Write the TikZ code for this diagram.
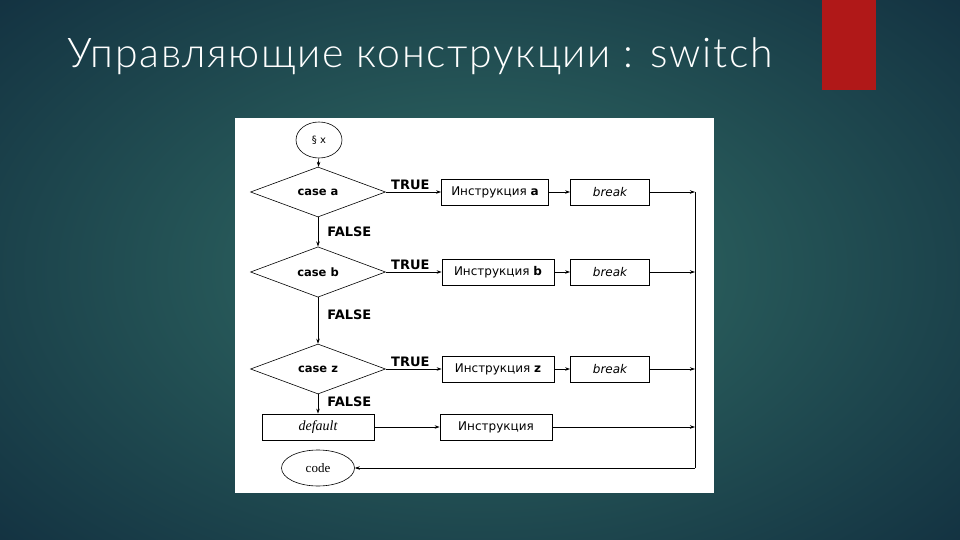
\documentclass[tikz,border=0pt]{standalone}
\usepackage{fontspec}
\setmainfont{DejaVu Sans}
\newfontfamily\titlefont{Lato Light}[LetterSpace=4]
\newfontfamily\serifit{Liberation Serif}
\usepackage{xcolor}
\usetikzlibrary{arrows.meta,positioning,shapes.geometric}
\definecolor{bgin}{RGB}{50,110,102}
\definecolor{bgout}{RGB}{18,48,64}
\definecolor{barred}{RGB}{176,24,24}

\begin{document}
\begin{tikzpicture}[
  x=1pt,y=-1pt,
  box/.style={rectangle,draw=black,line width=0.8pt,fill=white,minimum width=107pt,minimum height=26pt,inner sep=1pt,font=\fontsize{12}{14}\selectfont},
  brk/.style={box,minimum width=79pt,font=\fontsize{12}{14}\selectfont\itshape},
  cond/.style={diamond,draw=black,line width=0.6pt,minimum width=135pt,minimum height=50pt,inner sep=0pt,font=\fontsize{11.5}{14}\selectfont\bfseries},
  term/.style={ellipse,draw=black,line width=0.6pt,inner sep=0pt,minimum height=36pt},
  lbl/.style={font=\fontsize{13}{15}\selectfont\bfseries,inner sep=0pt},
  arr/.style={-{Stealth[length=5pt,width=3.5pt]},line width=0.7pt},
  line/.style={line width=0.7pt}
]
% slide background
\useasboundingbox (0,0) rectangle (960,540);
\shade[inner color=bgin,outer color=bgout] (-200,-150) rectangle (1160,690);
\fill[barred] (822,0) rectangle (876,90);
\node[anchor=base west,inner sep=0pt,text=white,font=\titlefont\fontsize{41}{44}\selectfont] (title) at (67,68) {Управляющие конструкции : switch};
\fill[white] (235,118) rectangle (714,493);

% flowchart
\node[term,minimum width=46pt,font=\fontsize{10}{12}\selectfont] (sw) at (319,140) {§ x};
\node[cond] (casea) at (318,192) {case a};
\node[cond] (caseb) at (318,272) {case b};
\node[cond] (casez) at (318,369) {case z};
\node[box,minimum width=112pt] (deflt) at (318,427) {\serifit\itshape\fontsize{14}{16}\selectfont default};
\node[term,minimum width=73pt,font=\serifit\fontsize{13}{15}\selectfont] (code) at (318,468) {code};

\node[box] (insa) at (495,192) {Инструкция \textbf{a}};
\node[box,minimum width=112pt] (insb) at (498,272) {Инструкция \textbf{b}};
\node[box,minimum width=112pt] (insz) at (498,369) {Инструкция \textbf{z}};
\node[box,minimum width=112pt] (insd) at (496,427) {Инструкция};

\node[brk] (brka) at (610,192) {break};
\node[brk] (brkb) at (610,272) {break};
\node[brk] (brkz) at (610,369) {break};

\coordinate (ja) at (695,192);
\coordinate (jb) at (695,272);
\coordinate (jz) at (695,369);
\coordinate (jd) at (695,427);
\coordinate (jend) at (695,468);

\draw[arr] (sw) -- (casea);
\draw[arr] (casea) -- node[lbl,right=9pt] {FALSE} (caseb);
\draw[arr] (caseb) -- node[lbl,right=9pt,pos=0.38] {FALSE} (casez);
\draw[arr] (casez) -- node[lbl,right=9pt,pos=0.4] {FALSE} (deflt);

\draw[arr] (casea.east) -- node[lbl,above right=2pt and 5pt,pos=0] {TRUE} (insa);
\draw[arr] (caseb.east) -- node[lbl,above right=2pt and 5pt,pos=0] {TRUE} (insb);
\draw[arr] (casez.east) -- node[lbl,above right=2pt and 5pt,pos=0] {TRUE} (insz);
\draw[arr] (deflt) -- (insd);

\draw[arr] (insa) -- (brka);
\draw[arr] (insb) -- (brkb);
\draw[arr] (insz) -- (brkz);

\draw[arr] (brka) -- (ja);
\draw[arr] (brkb) -- (jb);
\draw[arr] (brkz) -- (jz);
\draw[arr] (insd) -- (jd);
\draw[line] (ja) -- (jend);
\draw[arr] (jend) -- (code);
\end{tikzpicture}
\end{document}
